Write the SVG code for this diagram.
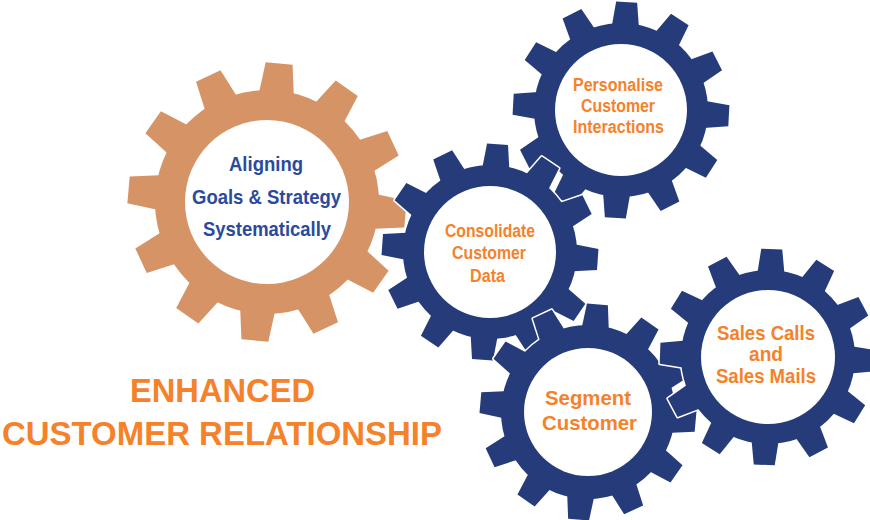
<svg xmlns="http://www.w3.org/2000/svg" xmlns:xlink="http://www.w3.org/1999/xlink" width="870" height="520" viewBox="0 0 870 520">
<style>
.t{font-family:"Liberation Sans",Arial,sans-serif;font-weight:bold;text-anchor:middle}
.ot{fill:#F5822A}
.btx{fill:#2B4A9C}
.hub{fill:#ffffff}
.edge{stroke:#ffffff;stroke-width:3;stroke-linejoin:round}
.blue{fill:#263C7A}
.orange{fill:#D69466}
</style>
<defs>
<polygon id="bTooth" points="-14,-80 -10.5,-108 10.5,-108 14,-80"/>
<g id="bGear">
<circle r="87"/>
<use href="#bTooth"/>
<use href="#bTooth" transform="rotate(30)"/>
<use href="#bTooth" transform="rotate(60)"/>
<use href="#bTooth" transform="rotate(90)"/>
<use href="#bTooth" transform="rotate(120)"/>
<use href="#bTooth" transform="rotate(150)"/>
<use href="#bTooth" transform="rotate(180)"/>
<use href="#bTooth" transform="rotate(210)"/>
<use href="#bTooth" transform="rotate(240)"/>
<use href="#bTooth" transform="rotate(270)"/>
<use href="#bTooth" transform="rotate(300)"/>
<use href="#bTooth" transform="rotate(330)"/>
</g>
<polygon id="oTooth" points="-18,-104 -13.5,-139 13.5,-139 18,-104"/>
<g id="oGear">
<circle r="112"/>
<use href="#oTooth"/>
<use href="#oTooth" transform="rotate(30)"/>
<use href="#oTooth" transform="rotate(60)"/>
<use href="#oTooth" transform="rotate(90)"/>
<use href="#oTooth" transform="rotate(120)"/>
<use href="#oTooth" transform="rotate(150)"/>
<use href="#oTooth" transform="rotate(180)"/>
<use href="#oTooth" transform="rotate(210)"/>
<use href="#oTooth" transform="rotate(240)"/>
<use href="#oTooth" transform="rotate(270)"/>
<use href="#oTooth" transform="rotate(300)"/>
<use href="#oTooth" transform="rotate(330)"/>
</g>
</defs>
<g id="connectors"></g>
<g id="gear-aligning">
<use href="#oGear" class="orange" transform="translate(267,202) rotate(5)"/>
<circle class="hub" cx="267" cy="202" r="82"/>
<text class="t btx" font-size="21" x="266" y="171" textLength="74" lengthAdjust="spacingAndGlyphs">Aligning</text>
<text class="t btx" font-size="21" x="266.5" y="204" textLength="149" lengthAdjust="spacingAndGlyphs">Goals &amp; Strategy</text>
<text class="t btx" font-size="21" x="267" y="236" textLength="128" lengthAdjust="spacingAndGlyphs">Systematically</text>
</g>
<g id="gear-personalise">
<use href="#bGear" class="edge" fill="#ffffff" transform="translate(621,110) rotate(3)"/>
<use href="#bGear" class="blue" transform="translate(621,110) rotate(3)"/>
<circle class="hub" cx="621" cy="110" r="66"/>
<text class="t ot" font-size="17.5" x="618" y="91" textLength="90" lengthAdjust="spacingAndGlyphs">Personalise</text>
<text class="t ot" font-size="17.5" x="618" y="112" textLength="74" lengthAdjust="spacingAndGlyphs">Customer</text>
<text class="t ot" font-size="17.5" x="618.5" y="133" textLength="91" lengthAdjust="spacingAndGlyphs">Interactions</text>
</g>
<g id="gear-consolidate">
<use href="#bGear" class="edge" fill="#ffffff" transform="translate(490,252) rotate(4)"/>
<use href="#bGear" class="blue" transform="translate(490,252) rotate(4)"/>
<circle class="hub" cx="490" cy="252" r="66"/>
<text class="t ot" font-size="17.5" x="490" y="237" textLength="90" lengthAdjust="spacingAndGlyphs">Consolidate</text>
<text class="t ot" font-size="17.5" x="489" y="259" textLength="74" lengthAdjust="spacingAndGlyphs">Customer</text>
<text class="t ot" font-size="17.5" x="487.5" y="282" textLength="35" lengthAdjust="spacingAndGlyphs">Data</text>
</g>
<g id="gear-segment">
<use href="#bGear" class="edge" fill="#ffffff" transform="translate(588,412) rotate(5)"/>
<use href="#bGear" class="blue" transform="translate(588,412) rotate(5)"/>
<circle class="hub" cx="588" cy="412" r="64"/>
<text class="t ot" font-size="21" x="588" y="405" textLength="86" lengthAdjust="spacingAndGlyphs">Segment</text>
<text class="t ot" font-size="21" x="589.5" y="430" textLength="95" lengthAdjust="spacingAndGlyphs">Customer</text>
</g>
<g id="gear-sales">
<use href="#bGear" class="edge" fill="#ffffff" transform="translate(768,357) rotate(2)"/>
<use href="#bGear" class="blue" transform="translate(768,357) rotate(2)"/>
<circle class="hub" cx="768" cy="357" r="67"/>
<text class="t ot" font-size="20" x="766" y="340" textLength="98" lengthAdjust="spacingAndGlyphs">Sales Calls</text>
<text class="t ot" font-size="20" x="766" y="361" textLength="34" lengthAdjust="spacingAndGlyphs">and</text>
<text class="t ot" font-size="20" x="766" y="383" textLength="100" lengthAdjust="spacingAndGlyphs">Sales Mails</text>
</g>
<g id="title">
<text class="t ot" font-size="34" x="222.5" y="402" textLength="185" lengthAdjust="spacingAndGlyphs">ENHANCED</text>
<text class="t ot" font-size="34" x="222" y="445" textLength="440" lengthAdjust="spacingAndGlyphs">CUSTOMER RELATIONSHIP</text>
</g>
</svg>
